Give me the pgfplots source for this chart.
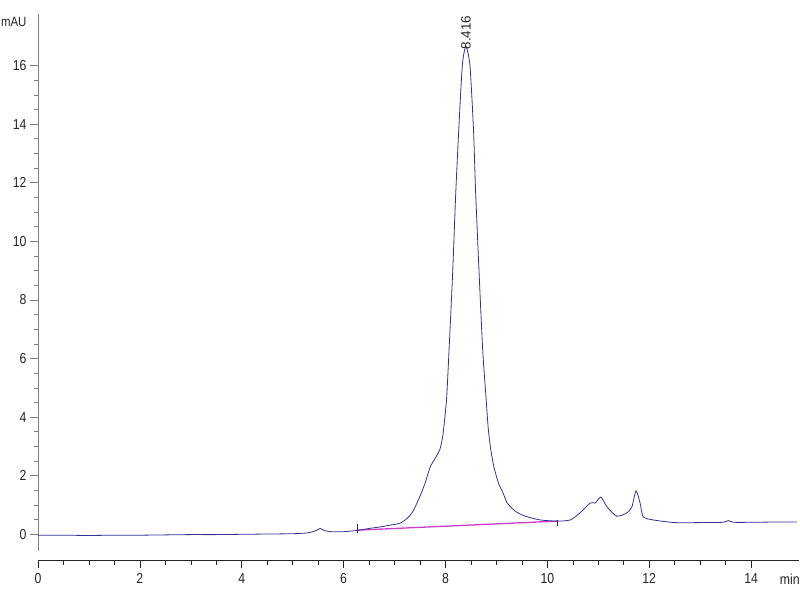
\documentclass[border=0pt]{standalone}
\usepackage{fontspec}
\setmainfont{Liberation Sans}[FakeStretch=0.85]
\newfontfamily\peakfont{Liberation Sans}
\usepackage{pgfplots}
\pgfplotsset{compat=1.18}
\definecolor{trace}{RGB}{50,50,150}
\definecolor{basel}{RGB}{205,60,205}
\begin{document}
\begin{tikzpicture}
\begin{axis}[name=ax, scale only axis, width=761bp, height=546bp,
 xmin=0, xmax=14.94, ymin=-0.877, ymax=17.76,
 axis x line=bottom, axis y line=left,
 x axis line style={-, black!85, line width=0.7bp},
 y axis line style={-, black!50, line width=0.7bp, shorten <=9bp},
 xtick={0,2,...,14}, ytick={0,2,...,16},
 minor x tick num=3, minor y tick num=3,
 tick align=outside, major tick length=8bp, minor tick length=4.5bp,
 every major x tick/.append style={black!85, line width=0.6bp},
 every minor x tick/.append style={black!85, line width=0.6bp},
 every major y tick/.append style={black!50, line width=0.6bp},
 every minor y tick/.append style={black!50, line width=0.6bp},
 ticklabel style={font=\fontsize{14.5}{16}\selectfont, text=black!85},
 xticklabel style={yshift=-2bp},
 /pgf/number format/assume math mode=true,
 clip=false,
]
\addplot[basel, line width=1.3bp] coordinates {(6.26,0.14) (10.19,0.45)};
\addplot[trace!70!black, line width=0.6bp] coordinates {(6.26,0.05) (6.26,0.35)};
\addplot[trace!70!black, line width=0.6bp] coordinates {(10.19,0.28) (10.19,0.48)};
\addplot[trace, line width=0.8bp, smooth, tension=0.4] coordinates {
(0,-0.03) (0.5,-0.03) (1,-0.04) (1.5,-0.03) (2,-0.03) (2.5,-0.02) (3,-0.01) (3.5,-0.01) (4,0.0) (4.5,0.01) (5,0.02) (5.3,0.05) (5.45,0.12) (5.54,0.2) (5.62,0.13) (5.75,0.09) (6.0,0.09) (6.26,0.13) (6.5,0.2) (6.71,0.25) (6.9,0.31) (7.11,0.38) (7.25,0.55) (7.36,0.78) (7.5,1.3) (7.6,1.75) (7.7,2.3) (7.8,2.6) (7.89,2.9) (7.95,3.4) (8.02,4.6) (8.07,6.3) (8.14,8.9) (8.2,11.6) (8.26,13.8) (8.33,16.0) (8.40,16.65) (8.48,16.0) (8.55,13.8) (8.59,11.75) (8.66,8.9) (8.73,6.3) (8.79,4.8) (8.84,3.6) (8.89,2.88) (8.95,2.3) (9.04,1.75) (9.13,1.41) (9.21,1.07) (9.30,0.9) (9.42,0.73) (9.6,0.6) (9.86,0.49) (10.19,0.45) (10.45,0.49) (10.64,0.73) (10.84,1.07) (10.94,1.07) (11.05,1.27) (11.17,0.94) (11.36,0.62) (11.56,0.73) (11.66,0.94) (11.74,1.48) (11.82,1.07) (11.88,0.6) (12.08,0.49) (12.5,0.40) (13.0,0.40) (13.45,0.41) (13.55,0.47) (13.65,0.41) (14.0,0.41) (14.5,0.42) (14.9,0.42)
};
\node[anchor=east, font=\fontsize{13.5}{16}\selectfont, text=black!85] at ([xshift=-8bp]axis cs:0,17.5) {mAU};
\node[anchor=base, font=\fontsize{14.5}{16}\selectfont, text=black!85] at ([yshift=-24bp]axis cs:14.76,-0.877) {min};
\node[rotate=90, anchor=west, inner sep=0pt, font=\peakfont\fontsize{13.5}{15}\selectfont, text=black!85] at (axis cs:8.40,16.55) {8.416};
\end{axis}
\pgfresetboundingbox
\path[use as bounding box] ([xshift=-38bp,yshift=-40bp]ax.south west) rectangle ([xshift=1bp,yshift=14bp]ax.north east);
\end{tikzpicture}
\end{document}
